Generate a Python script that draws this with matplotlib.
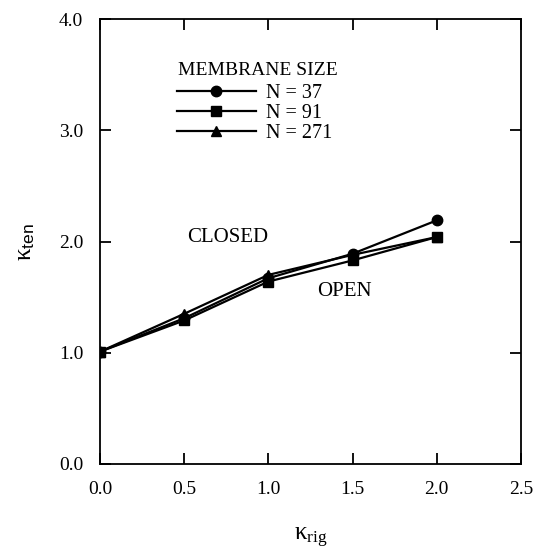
import matplotlib
matplotlib.use("Agg")
import matplotlib.pyplot as plt

plt.rcParams["font.family"] = ["Liberation Serif", "DejaVu Serif"]
plt.rcParams["mathtext.fontset"] = "custom"
plt.rcParams["mathtext.rm"] = "Liberation Serif"
plt.rcParams["mathtext.sf"] = "Liberation Sans"
plt.rcParams["mathtext.it"] = "Liberation Serif:italic"

k_rig = [0.0, 0.5, 1.0, 1.5, 2.0]
k_ten_37 = [1.01, 1.31, 1.67, 1.89, 2.19]
k_ten_91 = [1.01, 1.29, 1.64, 1.83, 2.04]
k_ten_271 = [1.01, 1.35, 1.70, 1.88, 2.04]

series = [
    ("N = 37", k_ten_37, "o", 7.5),
    ("N = 91", k_ten_91, "s", 7.2),
    ("N = 271", k_ten_271, "^", 6.5),
]

x_ticks = [0.0, 0.5, 1.0, 1.5, 2.0, 2.5]
y_ticks = [0.0, 1.0, 2.0, 3.0, 4.0]

fig = plt.figure(figsize=(5.39, 5.5), dpi=100)
ax = fig.add_axes([0.1855, 0.1564, 0.781, 0.809])

for label, vals, marker, ms in series:
    ax.plot(k_rig, vals, color="black", linewidth=1.6, marker=marker, markersize=ms, label=label)

ax.set_xlim(0, 2.5)
ax.set_ylim(0, 4.0)
ax.set_xticks(x_ticks)
ax.set_yticks(y_ticks)
ax.set_xticklabels([f"{v:.1f}" for v in x_ticks])
ax.set_yticklabels([f"{v:.1f}" for v in y_ticks])
ax.tick_params(direction="in", length=8, width=1.3, top=True, right=True, labelsize=14, pad=12)
for s in ax.spines.values():
    s.set_linewidth(1.3)

ax.set_xlabel(r"κ$_{\mathrm{rig}}$", fontsize=18, labelpad=20)
ax.set_ylabel(r"κ$_{\mathsf{ten}}$", fontsize=18, labelpad=16)

ax.text(0.52, 2.04, "CLOSED", fontsize=15, va="center", ha="left")
ax.text(1.29, 1.55, "OPEN", fontsize=15, va="center", ha="left")

# legend title drawn separately so the gap under it can be set
ax.text(0.463, 3.54, "MEMBRANE SIZE", fontsize=14, va="center", ha="left")
ax.legend(loc="upper left", bbox_to_anchor=(0.183, 0.854), frameon=False,
          fontsize=14.5, handlelength=3.9, handletextpad=0.5,
          labelspacing=0.05, borderaxespad=0, borderpad=0)

fig.savefig("out.png", dpi=100)
